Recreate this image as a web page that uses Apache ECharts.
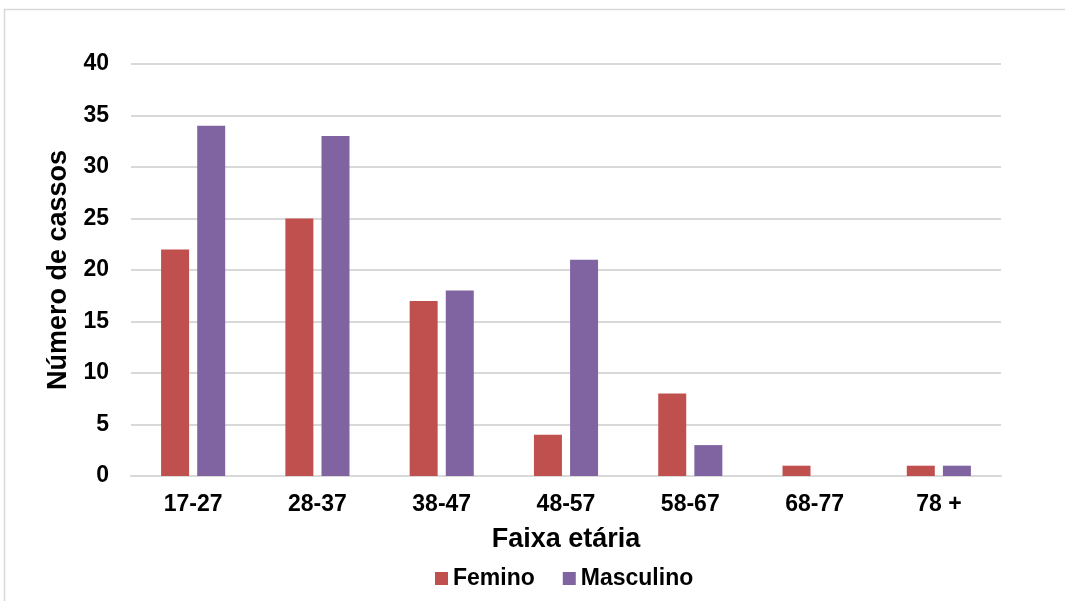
<!DOCTYPE html>
<html>
<head>
<meta charset="utf-8">
<script src="https://cdn.jsdelivr.net/npm/echarts@6/dist/echarts.min.js"></script>
<style>
  html, body { margin: 0; padding: 0; background: #fff; }
  #chart { width: 1065px; height: 601px; }
</style>
</head>
<body>
<div id="chart"></div>
<script>
// Age groups and case counts by sex
const categories = ['17-27', '28-37', '38-47', '48-57', '58-67', '68-77', '78 +'];
const feminino = [22, 25, 17, 4, 8, 1, 1];
const masculino = [34, 33, 18, 21, 3, 0, 1];
const yTicks = { min: 0, max: 40, interval: 5 };

const font = 'Liberation Sans, Arial, sans-serif';
const chart = echarts.init(document.getElementById('chart'), null, { renderer: 'canvas' });

chart.setOption({
  animation: false,
  backgroundColor: '#fff',
  graphic: [{
    type: 'rect',
    shape: { x: 4.5, y: 9.5, width: 1080, height: 620 },
    style: { fill: 'none', stroke: '#d9d9d9', lineWidth: 1.5 },
    silent: true
  }],
  grid: { left: 131, right: 64, top: 64, bottom: 125 },
  legend: {
    top: 562,
    left: 430,
    itemWidth: 13,
    itemHeight: 13,
    itemGap: 28,
    icon: 'rect',
    textStyle: { fontFamily: font, fontWeight: 'bold', fontSize: 23, color: '#000' },
    data: ['Femino', 'Masculino']
  },
  xAxis: {
    type: 'category',
    data: categories,
    name: 'Faixa etária',
    nameLocation: 'middle',
    nameGap: 50,
    nameTextStyle: { fontFamily: font, fontWeight: 'bold', fontSize: 27, color: '#000' },
    axisLine: { show: true, lineStyle: { color: '#d9d9d9', width: 2 } },
    axisTick: { show: false },
    axisLabel: { fontFamily: font, fontWeight: 'bold', fontSize: 23, color: '#000', margin: 17 }
  },
  yAxis: {
    type: 'value',
    min: yTicks.min,
    max: yTicks.max,
    interval: yTicks.interval,
    name: 'Número de cassos',
    nameLocation: 'middle',
    nameGap: 54,
    nameTextStyle: { fontFamily: font, fontWeight: 'bold', fontSize: 27, color: '#000' },
    axisLine: { show: false },
    axisTick: { show: false },
    axisLabel: { fontFamily: font, fontWeight: 'bold', fontSize: 23, color: '#000', margin: 22 },
    splitLine: { lineStyle: { color: '#d9d9d9', width: 2 } }
  },
  series: [
    {
      name: 'Femino',
      type: 'bar',
      data: feminino,
      barWidth: 28,
      barGap: '29%',
      itemStyle: { color: '#C0504D' }
    },
    {
      name: 'Masculino',
      type: 'bar',
      data: masculino,
      barWidth: 28,
      barGap: '29%',
      itemStyle: { color: '#8064A2' }
    }
  ]
});
</script>
</body>
</html>
